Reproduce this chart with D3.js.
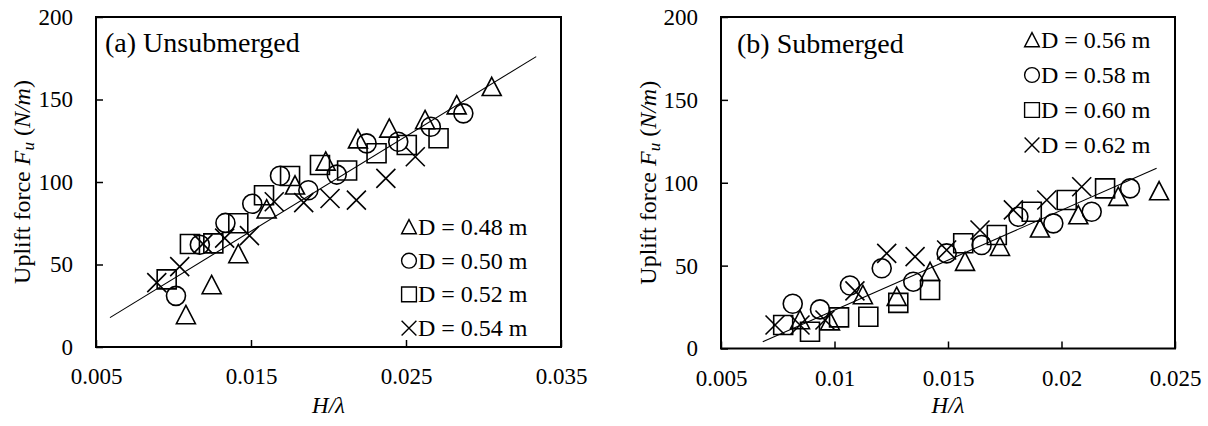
<!DOCTYPE html>
<html>
<head>
<meta charset="utf-8">
<script src="https://cdn.jsdelivr.net/npm/d3@7"></script>
<style>
  html, body { margin: 0; padding: 0; background: #fff; }
  svg { display: block; font-family: "Liberation Serif", "Times New Roman", serif; }
</style>
</head>
<body>
<svg id="chart" width="1208" height="426"></svg>
<script>
// ---------------- DATA ----------------
// Panel (a) Unsubmerged
const aD048x = [0.0108, 0.01246, 0.01418, 0.01601, 0.01784, 0.01982, 0.0219, 0.02392, 0.02623, 0.02827, 0.03053];
const aD048y = [19.4, 37.6, 56.4, 83.5, 98, 112.5, 126, 132.5, 137.6, 146.6, 157.7];
const aD050x = [0.01016, 0.0117, 0.01335, 0.01508, 0.01687, 0.0187, 0.02053, 0.02246, 0.0245, 0.0266, 0.0287];
const aD050y = [31, 62, 75.2, 86.8, 103.8, 95, 104.5, 123.4, 124.4, 133.5, 141.6];
const aD052x = [0.00956, 0.01106, 0.01257, 0.01418, 0.01584, 0.01752, 0.01945, 0.0212, 0.0231, 0.02505, 0.0271];
const aD052y = [41, 62.4, 62.8, 75, 92, 103.6, 110.3, 107, 117.4, 122.4, 126.5];
const aD054x = [0.00892, 0.0104, 0.0119, 0.0133, 0.0149, 0.0165, 0.0184, 0.0201, 0.0218, 0.0237, 0.0256];
const aD054y = [39, 48.7, 62.5, 66, 67.5, 88, 87.5, 90, 89, 102.2, 115.3];
const aFitX = [0.0059, 0.0334];
const aFitY = [17.8, 176];

// Panel (b) Submerged
const bD056x = [0.00848, 0.0098, 0.01125, 0.01274, 0.01421, 0.01575, 0.01729, 0.01905, 0.02074, 0.0225, 0.0243];
const bD056y = [17.2, 16.5, 32.3, 31.3, 46.3, 52.4, 61.4, 72.5, 80.5, 91.6, 95];
const bD058x = [0.00816, 0.00936, 0.01068, 0.01208, 0.01347, 0.01494, 0.01648, 0.0181, 0.01964, 0.02133, 0.02302];
const bD058y = [27, 23.6, 38, 48.4, 40.3, 57.4, 62.4, 79.5, 75.5, 82.5, 96.6];
const bD060x = [0.00774, 0.00892, 0.0102, 0.01149, 0.01281, 0.01421, 0.01567, 0.01715, 0.01869, 0.02023, 0.02192];
const bD060y = [14.2, 10.1, 18.8, 19.2, 27.5, 35.3, 63.5, 68.5, 82.5, 89.6, 96.6];
const bD062x = [0.00738, 0.00848, 0.00958, 0.0109, 0.0123, 0.01355, 0.01494, 0.01641, 0.01788, 0.01935, 0.02089];
const bD062y = [14.2, 14.2, 17.2, 34.8, 57.4, 55.4, 59.4, 71.5, 83.6, 89.6, 97.6];
const bFitX = [0.00684, 0.02419];
const bFitY = [4.1, 108.7];

// Labels and ticks
const aTitle = "(a) Unsubmerged";
const bTitle = "(b) Submerged";
const aLegend = ["D = 0.48 m", "D = 0.50 m", "D = 0.52 m", "D = 0.54 m"];
const bLegend = ["D = 0.56 m", "D = 0.58 m", "D = 0.60 m", "D = 0.62 m"];
const aXTicks = [0.005, 0.015, 0.025, 0.035];
const aXTickLabels = ["0.005", "0.015", "0.025", "0.035"];
const bXTicks = [0.005, 0.01, 0.015, 0.02, 0.025];
const bXTickLabels = ["0.005", "0.01", "0.015", "0.02", "0.025"];
const yTicks = [0, 50, 100, 150, 200];
const yTickLabels = ["0", "50", "100", "150", "200"];
const markerKinds = ["triangle", "circle", "square", "cross"];

// ---------------- DRAW ----------------
const svg = d3.select("#chart");

function markerPath(kind, s) {
  const p = d3.path();
  if (kind === "triangle") {
    p.moveTo(0, -s); p.lineTo(s, s * 0.92); p.lineTo(-s, s * 0.92); p.closePath();
  } else if (kind === "circle") {
    p.moveTo(s, 0); p.arc(0, 0, s, 0, 2 * Math.PI);
  } else if (kind === "square") {
    p.rect(-s, -s, 2 * s, 2 * s);
  } else {
    p.moveTo(-s, -s); p.lineTo(s, s); p.moveTo(s, -s); p.lineTo(-s, s);
  }
  return p.toString();
}

function panel(cfg) {
  const g = svg.append("g");
  const x = d3.scaleLinear().domain(cfg.xDomain).range([cfg.left, cfg.right]);
  const y = d3.scaleLinear().domain([0, 200]).range([cfg.bottom, cfg.top]);

  const yAxis = d3.axisLeft(y).tickValues(yTicks)
    .tickFormat((d, i) => yTickLabels[i]).tickSizeInner(-7).tickSizeOuter(0).tickPadding(23);
  const ya = g.append("g").attr("transform", `translate(${cfg.left},0)`).call(yAxis);
  const xAxis = d3.axisBottom(x).tickValues(cfg.xTicks)
    .tickFormat((d, i) => cfg.xTickLabels[i]).tickSizeInner(-7).tickSizeOuter(0).tickPadding(21);
  const xa = g.append("g").attr("transform", `translate(0,${cfg.bottom})`).call(xAxis);
  [ya, xa].forEach(a => {
    a.select(".domain").remove();
    a.selectAll("line").attr("stroke", "#000").attr("stroke-width", 1.5);
    a.selectAll("text").attr("fill", "#000").style("font-size", "23px")
      .style("font-family", "'Liberation Serif', serif");
  });

  g.append("rect").attr("x", cfg.left).attr("y", cfg.top)
    .attr("width", cfg.right - cfg.left).attr("height", cfg.bottom - cfg.top)
    .attr("fill", "none").attr("stroke", "#000").attr("stroke-width", 2);

  const line = d3.line().x(d => x(d[0])).y(d => y(d[1]));
  g.append("path").datum(d3.zip(cfg.fitX, cfg.fitY)).attr("d", line)
    .attr("fill", "none").attr("stroke", "#000").attr("stroke-width", 1.1);

  cfg.series.forEach((s, i) => {
    const kind = markerKinds[i];
    g.append("g").selectAll("path").data(d3.zip(s[0], s[1])).join("path")
      .attr("transform", d => `translate(${x(d[0])},${y(d[1])})`)
      .attr("d", markerPath(kind, 9.5))
      .attr("fill", "none").attr("stroke", "#000").attr("stroke-width", 1.6);
  });

  g.append("text").attr("x", cfg.titleX).attr("y", cfg.titleY)
    .style("font-size", "28px").text(cfg.title);

  cfg.legend.forEach((t, i) => {
    const cy = cfg.legY + i * cfg.legStep;
    g.append("path").attr("transform", `translate(${cfg.legX},${cy})`)
      .attr("d", markerPath(markerKinds[i], 7.4))
      .attr("fill", "none").attr("stroke", "#000").attr("stroke-width", 1.4);
    g.append("text").attr("x", cfg.legX + 9).attr("y", cy)
      .attr("dominant-baseline", "central")
      .style("font-size", "24px").text(t);
  });

  g.append("text").attr("x", (cfg.left + cfg.right) / 2).attr("y", 413)
    .attr("text-anchor", "middle").style("font-size", "23px").style("font-style", "italic")
    .text("H/λ");

  const yt = g.append("text")
    .attr("transform", `translate(${cfg.yLabelX},${(cfg.top + cfg.bottom) / 2}) rotate(-90)`)
    .attr("text-anchor", "middle").attr("dominant-baseline", "central")
    .style("font-size", "24px");
  yt.append("tspan").text("Uplift force ");
  yt.append("tspan").style("font-style", "italic").text("F");
  yt.append("tspan").style("font-style", "italic").style("font-size", "17px").attr("dy", 6).text("u");
  yt.append("tspan").attr("dy", -6).text(" (");
  yt.append("tspan").style("font-style", "italic").text("N/m");
  yt.append("tspan").text(")");
}

panel({
  left: 96, right: 561, top: 17, bottom: 347,
  xDomain: [0.005, 0.035], xTicks: aXTicks, xTickLabels: aXTickLabels,
  series: [[aD048x, aD048y], [aD050x, aD050y], [aD052x, aD052y], [aD054x, aD054y]],
  fitX: aFitX, fitY: aFitY,
  title: aTitle, titleX: 105, titleY: 52,
  legend: aLegend, legX: 409, legY: 227, legStep: 33.7,
  yLabelX: 22
});

panel({
  left: 721, right: 1175, top: 17, bottom: 348.5,
  xDomain: [0.005, 0.025], xTicks: bXTicks, xTickLabels: bXTickLabels,
  series: [[bD056x, bD056y], [bD058x, bD058y], [bD060x, bD060y], [bD062x, bD062y]],
  fitX: bFitX, fitY: bFitY,
  title: bTitle, titleX: 737, titleY: 53,
  legend: bLegend, legX: 1032, legY: 40, legStep: 35,
  yLabelX: 648
});
</script>
</body>
</html>
